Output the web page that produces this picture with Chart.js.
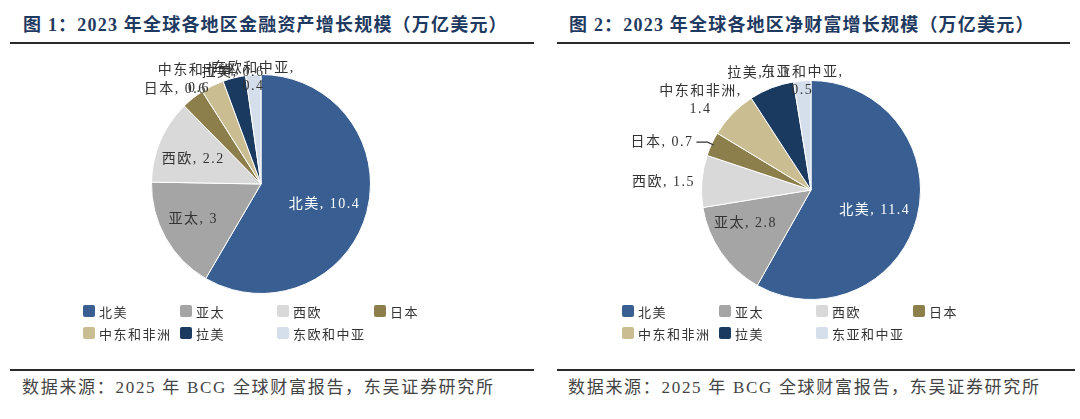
<!DOCTYPE html>
<html>
<head>
<meta charset="utf-8">
<script src="https://cdn.jsdelivr.net/npm/chart.js@4/dist/chart.umd.min.js"></script>
<style>
  body { margin: 0; width: 1080px; height: 419px; background: #fff; position: relative; overflow: hidden;
         font-family: 'Liberation Serif', 'Noto Sans CJK SC', serif; }
  .title { position: absolute; top: 14px; font-size: 18px; font-weight: bold; color: #1f3a60; line-height: 22px; white-space: nowrap; letter-spacing: 1.2px; }
  .rule { position: absolute; height: 2px; background: #2a2a2a; }
  .src { position: absolute; top: 377px; font-size: 17px; color: #444; line-height: 22px; white-space: nowrap; letter-spacing: 1.7px; }
  .cv { position: absolute; width: 400px; height: 260px; }
  .legend { position: absolute; top: 300px; display: grid; grid-template-columns: repeat(4, 97px); grid-auto-rows: 22px; }
  .legend div { display: flex; align-items: center; font-size: 13px; color: #333; letter-spacing: 1.5px; white-space: nowrap; }
  .legend span { display: inline-block; width: 12px; height: 12px; border-radius: 2px; margin-right: 4px; }
</style>
</head>
<body>
<div class="title" style="left:23px">图 1：2023 年全球各地区金融资产增长规模（万亿美元）</div>
<div class="title" style="left:569px">图 2：2023 年全球各地区净财富增长规模（万亿美元）</div>
<div class="rule" style="left:10px;width:524px;top:42px"></div>
<div class="rule" style="left:557px;width:513px;top:42px"></div>

<div class="cv" style="left:61px;top:54px"><canvas id="chart-1"></canvas></div>
<div class="cv" style="left:611px;top:60px"><canvas id="chart-2"></canvas></div>
<div class="legend" id="legend-1" style="left:83px"></div>
<div class="legend" id="legend-2" style="left:622px"></div>

<div class="rule" style="left:10px;width:524px;top:369px"></div>
<div class="rule" style="left:557px;width:518px;top:369px"></div>
<div class="src" style="left:22px">数据来源：2025 年 BCG 全球财富报告，东吴证券研究所</div>
<div class="src" style="left:568px">数据来源：2025 年 BCG 全球财富报告，东吴证券研究所</div>

<script>
const FONT = "'Liberation Serif', 'Noto Sans CJK SC', serif";

// 图1 金融资产增长
const regions1 = ['北美', '亚太', '西欧', '日本', '中东和非洲', '拉美', '东欧和中亚'];
const assets = [10.4, 3, 2.2, 0.6, 0.6, 0.6, 0.4];

// 图2 净财富增长
const regions2 = ['北美', '亚太', '西欧', '日本', '中东和非洲', '拉美', '东亚和中亚'];
const wealth = [11.4, 2.8, 1.5, 0.7, 1.4, 1.3, 0.5];

const COLORS = ['#395f92', '#a5a5a5', '#d9d9d9', '#8d7f4c', '#cabd91', '#1a3a60', '#d5dfeb'];

// label placement (radius as share of pie radius, small angle tweak in degrees)
const place1 = {
  radius: [0.61, 0.7, 0.66, 1.17, 1.11, 1.05, 0.98],
  shift: [3, 1.5, -3, -3.6, -4.4, 0, 0],
  wrap: [false, false, false, false, true, false, true],
  leader: [false, false, false, false, false, false, false]
};
const place2 = {
  radius: [0.61, 0.67, 1.35, 1.43, 1.3, 1.17, 1.0],
  shift: [3, 8, -1.6, -7, -5, -3, 0],
  wrap: [false, false, false, false, true, false, true],
  leader: [false, false, false, true, false, false, false]
};

const pieLabels = {
  id: 'pieLabels',
  afterDatasetsDraw(chart, args, opts) {
    const ctx = chart.ctx;
    const meta = chart.getDatasetMeta(0);
    const values = chart.data.datasets[0].data;
    ctx.save();
    ctx.font = '14px ' + FONT;
    ctx.letterSpacing = '1.5px';
    ctx.textAlign = 'center';
    ctx.textBaseline = 'middle';
    meta.data.forEach((arc, i) => {
      const p = arc.getProps(['x', 'y', 'startAngle', 'endAngle', 'outerRadius'], true);
      const a = (p.startAngle + p.endAngle) / 2 + opts.shift[i] * Math.PI / 180;
      const d = p.outerRadius * opts.radius[i];
      const cx = p.x + Math.cos(a) * d;
      const cy = p.y + Math.sin(a) * d;
      const name = chart.data.labels[i];
      const lines = opts.wrap[i] ? [name + ',', String(values[i])] : [name + ', ' + values[i]];
      ctx.fillStyle = i === 0 ? '#ffffff' : '#333333';
      lines.forEach((t, k) => ctx.fillText(t, cx, cy + (k - (lines.length - 1) / 2) * 18));
      if (opts.leader[i]) {
        const w = ctx.measureText(lines[0]).width;
        const m = (p.startAngle + p.endAngle) / 2;
        const ex = p.x + Math.cos(m) * p.outerRadius * 0.98;
        const ey = p.y + Math.sin(m) * p.outerRadius * 0.98;
        ctx.strokeStyle = '#333';
        ctx.lineWidth = 1.2;
        ctx.beginPath();
        ctx.moveTo(cx + w / 2 + 3, cy);
        ctx.lineTo(ex - 6, cy);
        ctx.lineTo(ex, ey);
        ctx.stroke();
      }
    });
    ctx.restore();
  }
};

function createPie(id, labels, data, place) {
  return new Chart(document.getElementById(id), {
    type: 'pie',
    data: {
      labels,
      datasets: [{ data, backgroundColor: COLORS, borderColor: '#ffffff', borderWidth: 1 }]
    },
    options: {
      responsive: true,
      maintainAspectRatio: false,
      animation: false,
      layout: { padding: { top: 20, bottom: 20, left: 70, right: 70 } },
      plugins: {
        legend: { display: false },
        tooltip: { enabled: false },
        pieLabels: place
      }
    },
    plugins: [pieLabels]
  });
}

function buildLegend(id, labels) {
  const box = document.getElementById(id);
  labels.forEach((name, i) => {
    const item = document.createElement('div');
    item.innerHTML = `<span style="background:${COLORS[i]}"></span>${name}`;
    box.appendChild(item);
  });
}

createPie('chart-1', regions1, assets, place1);
createPie('chart-2', regions2, wealth, place2);
buildLegend('legend-1', regions1);
buildLegend('legend-2', regions2);
</script>
</body>
</html>
